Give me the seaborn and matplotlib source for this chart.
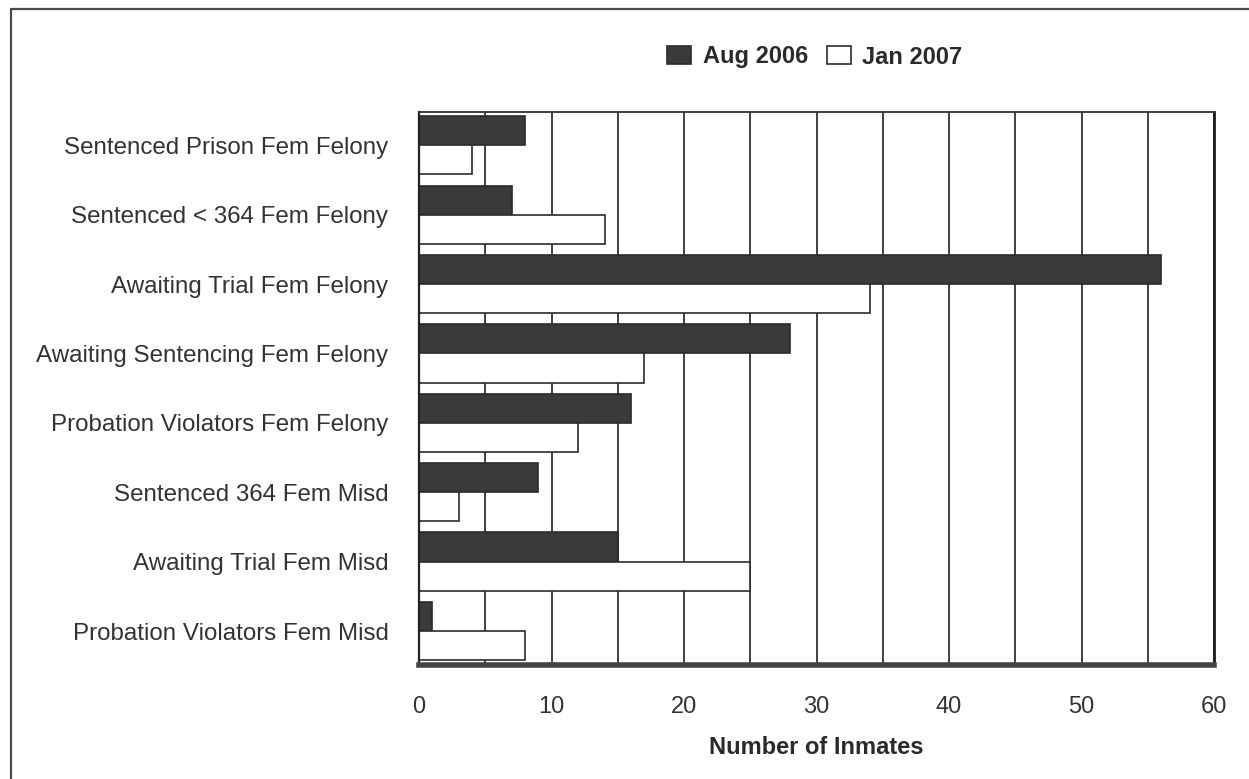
import numpy as np
import pandas as pd
import matplotlib
matplotlib.use("Agg")
import matplotlib.pyplot as plt
from matplotlib.lines import Line2D
import seaborn as sns

sns.set_theme(style="white")
plt.rcParams["font.family"] = ["Liberation Sans", "DejaVu Sans"]

# Inmate counts by classification
categories = [
    "Sentenced Prison Fem Felony",
    "Sentenced < 364 Fem Felony",
    "Awaiting Trial Fem Felony",
    "Awaiting Sentencing Fem Felony",
    "Probation Violators Fem Felony",
    "Sentenced 364 Fem Misd",
    "Awaiting Trial Fem Misd",
    "Probation Violators Fem Misd",
]
series_names = ["Aug 2006", "Jan 2007"]
aug_2006 = [8, 7, 56, 28, 16, 9, 15, 1]
jan_2007 = [4, 14, 34, 17, 12, 3, 25, 8]
x_ticks = [0, 10, 20, 30, 40, 50, 60]
x_label = "Number of Inmates"

df = pd.DataFrame({
    "category": categories * 2,
    "period": [series_names[0]] * len(categories) + [series_names[1]] * len(categories),
    "inmates": aug_2006 + jan_2007,
})

W, H = 1249, 779
fig = plt.figure(figsize=(W / 100, H / 100), dpi=100)
fig.patch.set_facecolor("white")
ax_left, ax_right, ax_top, ax_bottom = 419, 1214, 112, 665
ax = fig.add_axes([ax_left / W, 1 - ax_bottom / H,
                   (ax_right - ax_left) / W, (ax_bottom - ax_top) / H])

dark = "#3a3a3a"
ink = "#2b2b2b"
sns.barplot(
    data=df, y="category", x="inmates", hue="period",
    order=categories, hue_order=series_names,
    palette={series_names[0]: dark, series_names[1]: "white"},
    orient="h", width=0.84, saturation=1,
    edgecolor=ink, linewidth=1.2, ax=ax,
)

ax.set_xlim(0, 60)
ax.set_ylim(7.49, -0.48)
ax.set_xticks(x_ticks)
ax.set_xticks(np.arange(5, 60, 10), minor=True)
ax.grid(axis="x", which="both", color="#333333", linewidth=1.3)
ax.grid(axis="y", visible=False)
ax.set_axisbelow(True)

ax.tick_params(axis="x", which="both", length=0, pad=22, labelsize=17, labelcolor="#333333")
ax.tick_params(axis="y", length=0, pad=22, labelsize=17.4, labelcolor="#333333")
ax.set_ylabel("")
ax.set_xlabel(x_label, fontsize=17, fontweight="bold", color="#2a2a2a", labelpad=13)

for side, lw, col in [("left", 1.6, "#222222"), ("top", 1.3, "#333333"),
                      ("right", 2.0, "#1e1e1e"), ("bottom", 4.0, "#444444")]:
    ax.spines[side].set_visible(True)
    ax.spines[side].set_linewidth(lw)
    ax.spines[side].set_color(col)

handles, labels = ax.get_legend_handles_labels()
ax.get_legend().remove()
fig.legend(
    handles, labels, loc="center", bbox_to_anchor=(815 / W, 1 - 57 / H),
    ncol=2, frameon=False, handlelength=1.0, handleheight=0.78,
    handletextpad=0.5, columnspacing=0.8,
    prop={"weight": "bold", "size": 17}, labelcolor="#2a2a2a",
)

# Page frame
fig.add_artist(Line2D([11 / W, 11 / W], [0, 1 - 9 / H], transform=fig.transFigure,
                      color="#4a4a4a", linewidth=1.6))
fig.add_artist(Line2D([11 / W, 1], [1 - 9 / H, 1 - 9 / H], transform=fig.transFigure,
                      color="#4a4a4a", linewidth=1.6))

fig.savefig("out.png", dpi=100)
